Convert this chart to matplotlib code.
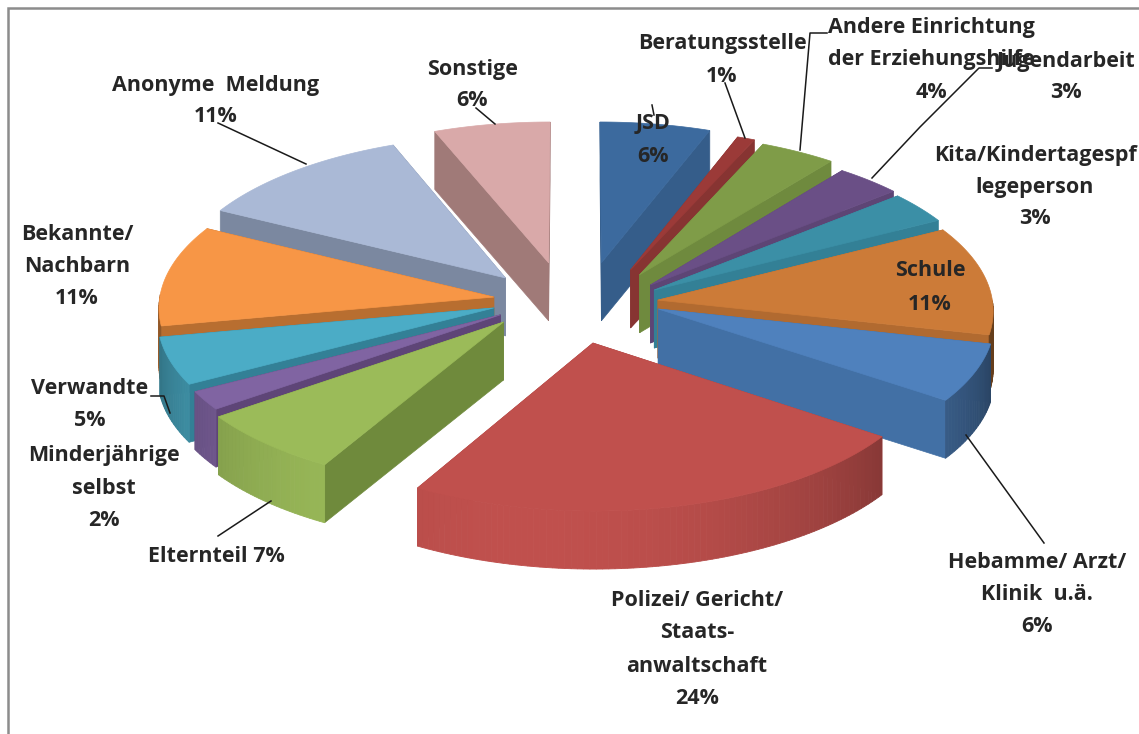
import numpy as np
import matplotlib
matplotlib.use("Agg")
import matplotlib.pyplot as plt
from matplotlib.colors import to_rgb

labels = ["JSD", "Beratungsstelle", "Andere Einrichtung\nder Erziehungshilfe", "Jugendarbeit",
          "Kita/Kindertagespf\nlegeperson", "Schule", "Hebamme/ Arzt/\nKlinik  u.ä.",
          "Polizei/ Gericht/\nStaats-\nanwaltschaft", "Elternteil", "Minderjährige\nselbst",
          "Verwandte", "Bekannte/\nNachbarn", "Anonyme  Meldung", "Sonstige"]
# shares as the slice angles show them; the labels print them rounded
values = [5.7, 0.9, 3.9, 3.4, 3.3, 11.4, 6.1, 23.5, 6.8, 2.0, 5.0, 10.6, 11.4, 6.0]

top_colors = ["#3C6A9E", "#9B3A38", "#7F9C48", "#6A4F86", "#3B8FA6", "#CC7B38", "#4F81BD",
              "#C0504D", "#9BBB59", "#8064A2", "#4BACC6", "#F79646", "#AAB9D6", "#D9A9A9"]
side_colors = ["#355D8A", "#873432", "#6F8A3E", "#5D4575", "#338096", "#B16A30", "#4270A5",
               "#A64240", "#6F8A3C", "#5E4577", "#338096", "#B86E30", "#7B88A0", "#A07A78"]

# explosion of every slice on the pie plane, as a fraction of the radius
explode_u = [0.077, 0.165, 0.192, 0.224, 0.235, 0.245, 0.245, 0.05, -0.215, -0.225, -0.245, -0.246, -0.213, -0.083]
explode_v = [0.279, 0.231, 0.199, 0.131, 0.098, 0.032, -0.026, -0.244, -0.11, -0.064, -0.019, 0.052, 0.178, 0.279]

# label centre per line block: x, y of first line, line spacing
label_pos = [(653, 124, 33), (722, 43, 34), (931, 27, 32.5), (1066, 62, 30), (1035, 155, 32), (930, 270, 35),
             (1037, 562, 32.5), (697, 600, 33), (216, 557, 0), (104, 455, 33), (90, 389, 32), (77, 235, 32),
             (216, 85, 32), (472, 69, 32)]

leaders = [[(652, 105), (654, 115)],
           [(725, 83), (745, 138)],
           [(827, 33), (810, 33), (800, 150)],
           [(992, 68), (979, 68), (920, 127), (872, 178)],
           [(218, 123), (306, 164)],
           [(476, 108), (495, 124)],
           [(151, 396), (164, 396), (170, 413)],
           [(218, 536), (271, 501)],
           [(966, 435), (1044, 543)]]

CX, CY = 576, 305
RX, RY = 335, 153.7
PERSP = 0.058
DEPTH = 58

plt.rcParams["font.family"] = ["Open Sans", "DejaVu Sans"]


def project(u, v):
    s = 1 / (1 + PERSP * v)
    return CX + RX * u * s, CY - RY * v * s


def shade(color, ang):
    # rim lighting, brightest toward the lower left
    f = max(0.5, 0.5 + 0.5 * np.cos(np.radians(ang - 190)))
    return tuple(c * f for c in to_rgb(color))


fig = plt.figure(figsize=(11.39, 7.34), dpi=100)
ax = fig.add_axes([0, 0, 1, 1])
ax.set_xlim(0, 1139)
ax.set_ylim(734, 0)
ax.axis("off")

total = sum(values)
edges = np.cumsum([0] + values) / total * 360
mids = (edges[:-1] + edges[1:]) / 2

for i in sorted(range(len(values)), key=lambda k: -np.cos(np.radians(mids[k]))):
    a0, a1 = edges[i], edges[i + 1]
    angs = np.linspace(a0, a1, max(8, int(a1 - a0) + 2))
    ou, ov = explode_u[i], explode_v[i]
    tx, ty = project(ou, ov)
    xs, ys = project(ou + np.sin(np.radians(angs)), ov + np.cos(np.radians(angs)))

    # radial walls
    for x, y in [(xs[0], ys[0]), (xs[-1], ys[-1])]:
        ax.fill([tx, x, x, tx], [ty, y, y + DEPTH, ty + DEPTH], color=side_colors[i], lw=0.5, zorder=2)
    # outer wall, the front half only
    for j in range(len(angs) - 1):
        if np.cos(np.radians(angs[j])) > 0:
            continue
        ax.fill([xs[j], xs[j + 1], xs[j + 1], xs[j]],
                [ys[j], ys[j + 1], ys[j + 1] + DEPTH, ys[j] + DEPTH],
                color=shade(top_colors[i], angs[j]), lw=0.6, zorder=2)
    # top face
    ax.fill(np.r_[tx, xs], np.r_[ty, ys], color=top_colors[i], lw=0.5, zorder=2)

for pts in leaders:
    px, py = zip(*pts)
    ax.plot(px, py, color="#1a1a1a", lw=1.1, zorder=3)

for lab, val, (x, y, dy) in zip(labels, values, label_pos):
    pct = f"{round(val)}%"
    if dy == 0:
        ax.text(x, y, f"{lab} {pct}", ha="center", va="center", fontsize=15.5, fontweight="bold", color="#262626", zorder=4)
        continue
    for n, line in enumerate(lab.split("\n") + [pct]):
        ax.text(x, y + n * dy, line, ha="center", va="center", fontsize=15.5, fontweight="bold", color="#262626", zorder=4)

# chart frame, only left and top show
ax.plot([8, 8, 1139], [734, 8, 8], color="#8c8c8c", lw=1.8, zorder=1, solid_joinstyle="miter")

fig.savefig("out.png", dpi=100, facecolor="white")
plt.close(fig)
